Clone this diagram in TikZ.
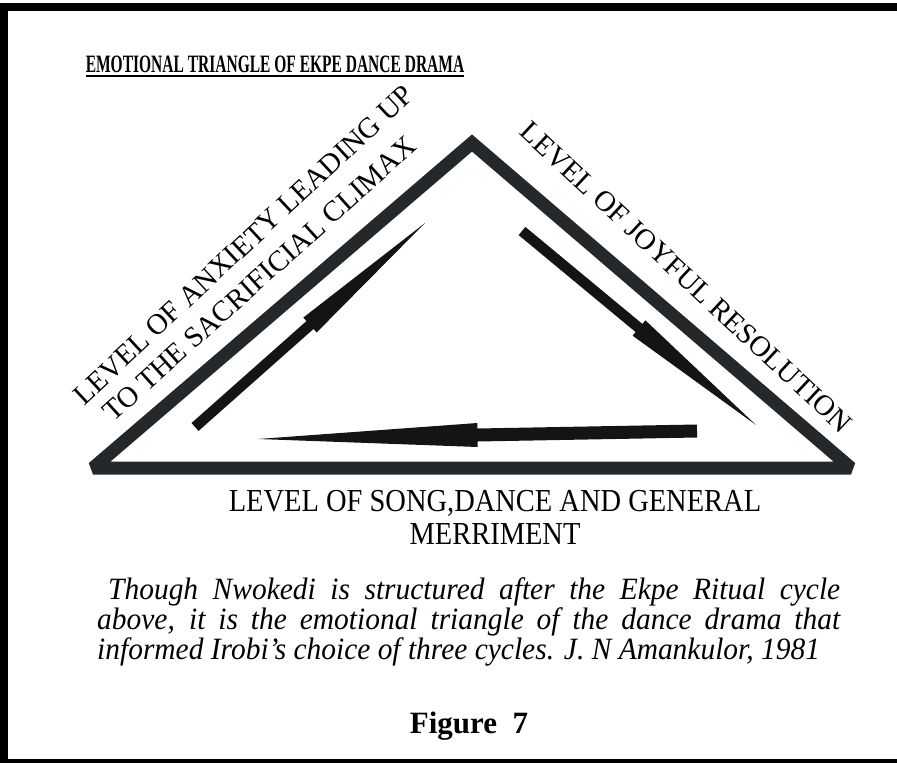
\documentclass[tikz,border=0pt]{standalone}
\usepackage{fontspec}
\setmainfont{Liberation Serif}
\newfontfamily\titlefont[FakeStretch=0.62]{Liberation Serif}
\newfontfamily\levelfont[FakeStretch=0.89]{Liberation Serif}
\newfontfamily\notefont[FakeStretch=0.95]{Liberation Serif}
\usetikzlibrary{calc}
\definecolor{trigray}{RGB}{37, 40, 42}
\definecolor{arrowblack}{RGB}{20, 20, 20}

% tapered arrow: tail, tip, shaft half width, head half width
\newcommand{\taperarrow}[4]{%
  \coordinate (#1-hb) at ($(#1)!0.5!(#2)$);
  \fill[arrowblack] ($(#1)!#3!90:(#2)$) -- ($(#1-hb)!#3!90:(#2)$) -- ($(#1-hb)!#4!90:(#2)$) -- (#2)
    -- ($(#1-hb)!#4!-90:(#2)$) -- ($(#1-hb)!#3!-90:(#2)$) -- ($(#1)!#3!-90:(#2)$) -- cycle;
}

\begin{document}
\begin{tikzpicture}[x=1pt, y=-1pt,
  sidelabel/.style={font=\fontsize{29}{30}\selectfont, inner sep=0pt, anchor=base},
  levellabel/.style={font=\levelfont\fontsize{32}{33}\selectfont, inner sep=0pt, anchor=base},
  notetext/.style={font=\notefont\itshape\fontsize{31}{30}\selectfont, text width=743pt, align=justify, inner sep=0pt}]
\useasboundingbox (0,0) rectangle (897,763);

% Frame
\draw[line width=8pt] (897,7) -- (4,7) -- (4,763) -- (897,763);

% Title
\node[font=\titlefont\bfseries\fontsize{25}{28}\selectfont, inner sep=0pt, anchor=base] (title) at (275,72) {EMOTIONAL TRIANGLE OF EKPE DANCE DRAMA};
\draw[line width=2.2pt] ([yshift=-4pt]title.base west) -- ([yshift=-4pt]title.base east);

% Triangle
\coordinate (bl) at (93,468);
\coordinate (apex) at (472,143);
\coordinate (br) at (851,468);
\draw[trigray, line width=13pt, line join=miter, miter limit=2] (bl) -- (apex) -- (br) -- cycle;

% Side labels
\node[sidelabel, rotate=43] (anxiety) at ($(bl)!0.52!(apex)!62pt!90:(apex)$) {LEVEL OF ANXIETY LEADING UP};
\node[sidelabel, rotate=42] (climax) at ($(bl)!0.5!(apex)!26pt!90:(apex)$) {TO THE SACRIFICIAL CLIMAX};
\node[sidelabel, rotate=-43] (joyful) at ($(apex)!0.5!(br)!28pt!90:(br)$) {LEVEL OF JOYFUL RESOLUTION};

% Base label
\node[levellabel] (song) at (495,511) {LEVEL OF SONG,DANCE AND GENERAL};
\node[levellabel] (merriment) at (495,544) {MERRIMENT};

% Arrows
\coordinate (ltail) at (195,427);
\coordinate (ltip) at (425,223);
\coordinate (rtail) at (522,231);
\coordinate (rtip) at (756,425);
\coordinate (btail) at (697,431);
\coordinate (btip) at (258,439);
\taperarrow{ltail}{ltip}{5.3pt}{10pt}
\taperarrow{rtail}{rtip}{5.3pt}{10pt}
\taperarrow{btail}{btip}{6.5pt}{12pt}

% Note
\node[notetext, anchor=north west] (note) at (97,577) {\hspace*{11pt}Though Nwokedi is structured after the Ekpe Ritual cycle\linebreak above, it is the emotional triangle of the dance drama that\linebreak informed Irobi’s choice of three cycles. J. N Amankulor, 1981};

% Caption
\node[font=\bfseries\fontsize{31}{33}\selectfont, inner sep=0pt, anchor=base] (caption) at (469,733) {Figure\ \ 7};
\end{tikzpicture}
\end{document}
